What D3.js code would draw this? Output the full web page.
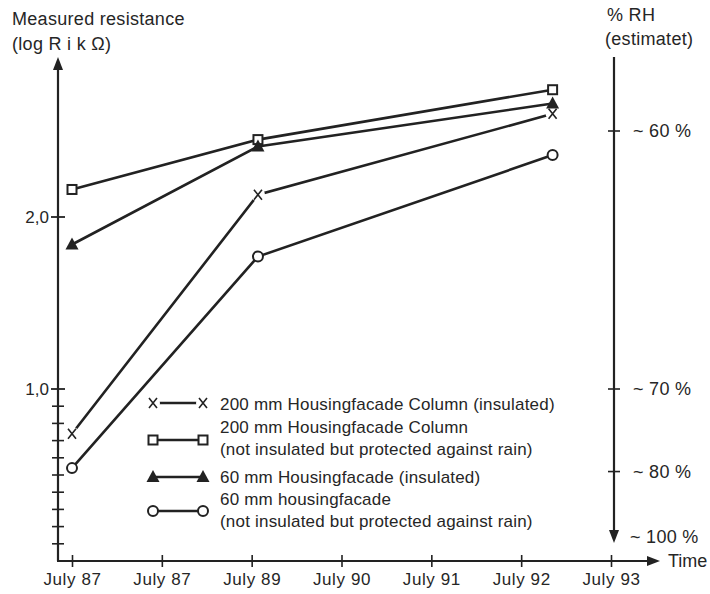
<!DOCTYPE html>
<html>
<head>
<meta charset="utf-8">
<script src="https://cdn.jsdelivr.net/npm/d3@7"></script>
<style>
  html, body { margin: 0; padding: 0; background: #fff; }
  svg text { font-family: "Liberation Sans", Arial, Helvetica, sans-serif; fill: #262626; }
</style>
</head>
<body>
<svg id="chart" width="710" height="594"></svg>
<script>
// Time axis: tick labels at yearly steps (index 0..6)
const timeTickLabels = ["July 87", "July 87", "July 89", "July 90", "July 91", "July 92", "July 93"];

// Measurement times, in years after the first tick
const sampleTimes = [0, 2.07, 5.35];

// Measured resistance, log R (kΩ)
const col200Insulated  = [0.74, 2.13, 2.60];
const col200Protected  = [2.16, 2.45, 2.74];
const facade60Insulated = [1.84, 2.41, 2.66];
const facade60Protected = [0.54, 1.77, 2.36];

// Left axis ticks
const majorTicks = [1.0, 2.0];
const majorTickLabels = ["1,0", "2,0"];
const minorTicks = [0.1, 0.2, 0.3, 0.4, 0.5, 0.6, 0.7, 0.8, 0.9];

// Right axis: estimated relative humidity, placed at the matching log R level
const rhLabels = ["~ 60 %", "~ 70 %", "~ 80 %"];
const rhLevels = [2.5, 1.0, 0.52];
const rhEndLabel = "~ 100 %";
const rhEndLevel = 0.14;

const seriesNames = [
  ["200 mm Housingfacade Column (insulated)"],
  ["200 mm Housingfacade Column", "(not insulated but protected against rain)"],
  ["60 mm Housingfacade (insulated)"],
  ["60 mm housingfacade", "(not insulated but protected against rain)"]
];

const ink = "#222";
const svg = d3.select("#chart");

const x = d3.scaleLinear().domain([0, 6]).range([72, 611]);
const y = d3.scaleLinear().domain([0, 1]).range([561, 389]);

const axisX0 = 58;       // left axis position
const axisXR = 614;      // right axis position
const yTop = y(2.93);

// ---- left axis ----
svg.append("line").attr("x1", axisX0).attr("x2", axisX0)
  .attr("y1", y(0)).attr("y2", yTop + 8)
  .attr("stroke", ink).attr("stroke-width", 2.2);
svg.append("path")
  .attr("d", `M${axisX0},${yTop} l-5,13 l10,0 z`).attr("fill", ink);

svg.selectAll(".minor").data(minorTicks).join("line")
  .attr("x1", axisX0 - 6).attr("x2", axisX0 + 6)
  .attr("y1", d => y(d)).attr("y2", d => y(d))
  .attr("stroke", ink).attr("stroke-width", 1.6);
svg.selectAll(".major").data(majorTicks).join("line")
  .attr("x1", axisX0 - 7).attr("x2", axisX0 + 7)
  .attr("y1", d => y(d)).attr("y2", d => y(d))
  .attr("stroke", ink).attr("stroke-width", 1.8);
svg.selectAll(".majorLabel").data(majorTicks).join("text")
  .attr("x", 49).attr("y", d => y(d) + 6)
  .attr("text-anchor", "end").attr("font-size", 17)
  .text((d, i) => majorTickLabels[i]);

svg.append("text").attr("x", 12).attr("y", 25).attr("font-size", 18)
  .attr("letter-spacing", 0.3).text("Measured resistance");
svg.append("text").attr("x", 12).attr("y", 50).attr("font-size", 18)
  .attr("letter-spacing", 0.3).text("(log R i k Ω)");

// ---- bottom axis ----
const xEnd = 660;
svg.append("line").attr("x1", axisX0 - 1).attr("x2", xEnd - 8)
  .attr("y1", y(0)).attr("y2", y(0))
  .attr("stroke", ink).attr("stroke-width", 2.2);
svg.append("path")
  .attr("d", `M${xEnd},${y(0)} l-13,-5 l0,10 z`).attr("fill", ink);

const xAxis = d3.axisBottom(x)
  .tickValues(d3.range(timeTickLabels.length))
  .tickFormat(i => timeTickLabels[i])
  .tickSize(0).tickPadding(12);
const gx = svg.append("g").attr("transform", `translate(0,${y(0)})`).call(xAxis);
gx.select(".domain").remove();
gx.selectAll(".tick").append("line")
  .attr("y1", -6).attr("y2", 6).attr("stroke", ink).attr("stroke-width", 1.6);
gx.selectAll(".tick text")
  .attr("font-size", 17).attr("letter-spacing", 0.6)
  .attr("fill", "#262626").attr("font-family", "Liberation Sans, Arial, sans-serif");

svg.append("text").attr("x", 668).attr("y", y(0) + 6).attr("font-size", 18).text("Time");

// ---- right axis ----
const yBottomR = y(rhEndLevel) + 6;
svg.append("line").attr("x1", axisXR).attr("x2", axisXR)
  .attr("y1", yTop).attr("y2", yBottomR - 8)
  .attr("stroke", ink).attr("stroke-width", 2.2);
svg.append("path")
  .attr("d", `M${axisXR},${yBottomR} l-5,-13 l10,0 z`).attr("fill", ink);
svg.selectAll(".rhTick").data(rhLevels).join("line")
  .attr("x1", axisXR - 6).attr("x2", axisXR + 6)
  .attr("y1", d => y(d)).attr("y2", d => y(d))
  .attr("stroke", ink).attr("stroke-width", 1.6);
svg.selectAll(".rhLabel").data(rhLevels).join("text")
  .attr("x", 633).attr("y", d => y(d) + 6).attr("font-size", 18)
  .attr("letter-spacing", 0.3)
  .text((d, i) => rhLabels[i]);
svg.append("text").attr("x", 630).attr("y", y(rhEndLevel) + 6).attr("font-size", 18)
  .attr("letter-spacing", 0.3).text(rhEndLabel);
svg.append("text").attr("x", 607).attr("y", 21).attr("font-size", 18)
  .attr("letter-spacing", 0.3).text("% RH");
svg.append("text").attr("x", 605).attr("y", 45).attr("font-size", 18)
  .attr("letter-spacing", 0.3).text("(estimatet)");

// ---- markers ----
function drawMarker(g, type, cx, cy) {
  if (type === "x") {
    g.append("circle").attr("cx", cx).attr("cy", cy).attr("r", 7).attr("fill", "#fff");
    g.append("path")
      .attr("d", `M${cx - 4},${cy - 5}L${cx + 4},${cy + 5}M${cx + 4},${cy - 5}L${cx - 4},${cy + 5}`)
      .attr("stroke", ink).attr("stroke-width", 1.6).attr("fill", "none");
  } else if (type === "square") {
    g.append("rect").attr("x", cx - 4.5).attr("y", cy - 4.5).attr("width", 9).attr("height", 9)
      .attr("fill", "#fff").attr("stroke", ink).attr("stroke-width", 2);
  } else if (type === "triangle") {
    g.append("path").attr("d", `M${cx},${cy - 7}L${cx + 6.5},${cy + 5}L${cx - 6.5},${cy + 5}Z`)
      .attr("fill", ink);
  } else {
    g.append("circle").attr("cx", cx).attr("cy", cy).attr("r", 5)
      .attr("fill", "#fff").attr("stroke", ink).attr("stroke-width", 2);
  }
}

const series = [
  { values: col200Insulated, marker: "x" },
  { values: col200Protected, marker: "square" },
  { values: facade60Insulated, marker: "triangle" },
  { values: facade60Protected, marker: "circle" }
];

const line = d3.line().x(d => x(d[0])).y(d => y(d[1]));
const plot = svg.append("g");
series.forEach(s => {
  const pts = sampleTimes.map((t, i) => [t, s.values[i]]);
  plot.append("path").attr("d", line(pts)).attr("fill", "none")
    .attr("stroke", ink).attr("stroke-width", 2.6);
});
series.forEach(s => {
  sampleTimes.forEach((t, i) => drawMarker(plot, s.marker, x(t), y(s.values[i])));
});

// ---- legend ----
const legendRows = [403, 440, 477, 511];
const legendTextRows = [[404], [427, 449], [477], [499, 521]];
const lg = svg.append("g");
series.forEach((s, i) => {
  const ly = legendRows[i];
  lg.append("line").attr("x1", 154).attr("x2", 203).attr("y1", ly).attr("y2", ly)
    .attr("stroke", ink).attr("stroke-width", 2.4);
  drawMarker(lg, s.marker, 153, ly);
  drawMarker(lg, s.marker, 203, ly);
  seriesNames[i].forEach((t, j) => {
    lg.append("text").attr("x", 220).attr("y", legendTextRows[i][j] + 6)
      .attr("font-size", 17).attr("letter-spacing", 0.2).text(t);
  });
});
</script>
</body>
</html>
